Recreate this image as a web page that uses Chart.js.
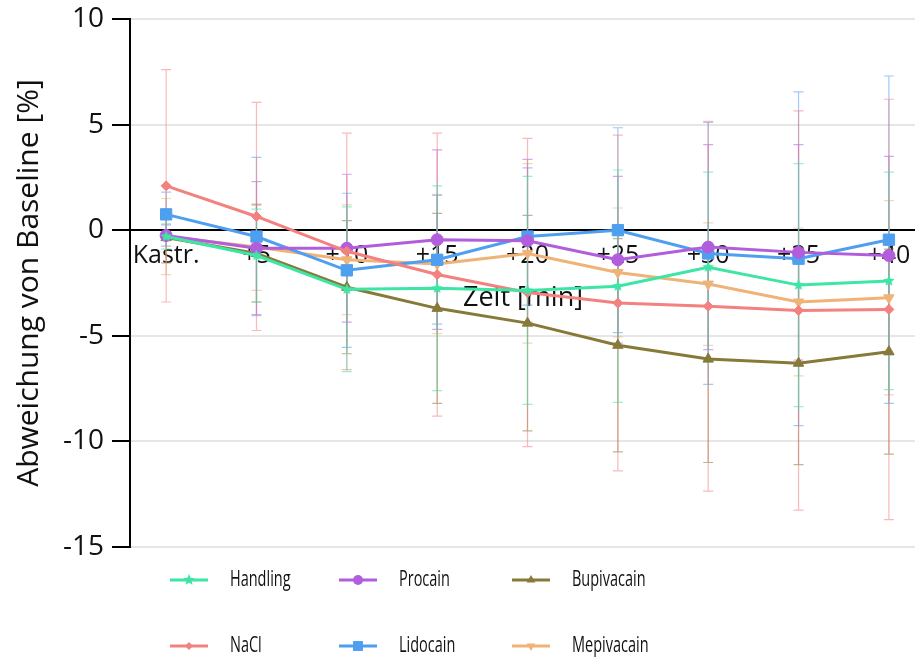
<!DOCTYPE html>
<html>
<head>
<meta charset="utf-8">
<title>Abweichung von Baseline</title>
<script src="https://cdn.jsdelivr.net/npm/chart.js@4.4.1/dist/chart.umd.min.js"></script>
<style>
  html, body { margin: 0; padding: 0; background: #fff; }
  #wrap { width: 915px; height: 660px; overflow: hidden; }
</style>
</head>
<body>
<div id="wrap"><canvas id="verlauf" width="925" height="660"></canvas></div>
<script>
// Messzeitpunkte (x-Achse)
const zeitpunkte = ['Kastr.', '+5', '+10', '+15', '+20', '+25', '+30', '+35', '+40'];

// Mittelwerte und Standardabweichungen je Gruppe (% Abweichung von Baseline)
const handlingMW   = [-0.3, -1.2, -2.8, -2.75, -2.85, -2.65, -1.75, -2.6, -2.4];
const handlingSD   = [0.6, 2.2, 3.9, 4.85, 5.4, 5.5, 4.5, 5.75, 5.15];
const naclMW       = [2.1, 0.65, -1.0, -2.1, -2.95, -3.45, -3.6, -3.8, -3.75];
const naclSD       = [5.5, 5.4, 5.6, 6.7, 7.3, 7.95, 8.75, 9.45, 9.95];
const procainMW    = [-0.25, -0.85, -0.85, -0.45, -0.5, -1.4, -0.8, -1.05, -1.2];
const procainSD    = [0.5, 3.15, 3.5, 4.25, 3.85, 3.95, 4.85, 5.1, 4.7];
const lidocainMW   = [0.75, -0.3, -1.9, -1.4, -0.3, 0, -1.1, -1.35, -0.45];
const lidocainSD   = [1.05, 3.75, 3.65, 3.05, 3.25, 4.85, 6.2, 7.9, 7.75];
const bupivacainMW = [-0.35, -1.1, -2.7, -3.7, -4.4, -5.45, -6.1, -6.3, -5.75];
const bupivacainSD = [1.2, 2.3, 3.15, 4.5, 5.1, 5.05, 4.9, 4.8, 4.85];
const mepivacainMW = [-0.3, -0.8, -1.4, -1.6, -1.1, -2.0, -2.55, -3.4, -3.2];
const mepivacainSD = [1.8, 2.05, 2.6, 3.3, 4.25, 3.05, 2.9, 3.5, 4.6];

// y-Achse
const yTicks = [-15, -10, -5, 0, 5, 10];

const farben = {
    handling: '#3ee6a6',
    nacl: '#f2817f',
    procain: '#b25ddc',
    lidocain: '#4f9ff0',
    bupivacain: '#877a38',
    mepivacain: '#f0b377'
};

const schrift = "'Open Sans', 'Noto Sans', sans-serif";

function hexToRgba(hex, alpha) {
    const r = parseInt(hex.slice(1, 3), 16);
    const g = parseInt(hex.slice(3, 5), 16);
    const b = parseInt(hex.slice(5, 7), 16);
    return `rgba(${r}, ${g}, ${b}, ${alpha})`;
}

// gefüllter Fünfzack als Punktsymbol (Chart.js 'star' ist nur ein Sternchen aus Strichen)
function stern(r, color) {
    const c = document.createElement('canvas');
    c.width = c.height = 2 * r + 2;
    const g = c.getContext('2d');
    g.fillStyle = color;
    g.beginPath();
    for (let k = 0; k < 10; k++) {
        const rad = k % 2 ? r * 0.45 : r;
        const a = -Math.PI / 2 + k * Math.PI / 5;
        g.lineTo(r + 1 + rad * Math.cos(a), r + 1 + rad * Math.sin(a));
    }
    g.closePath();
    g.fill();
    return c;
}

const punkte = (werte) => werte.map((v, i) => ({ x: i, y: v }));

function gruppe(label, mw, sd, farbe, symbol, radius, drehung) {
    return {
        label: label,
        data: punkte(mw),
        sd: sd,
        borderColor: farbe,
        backgroundColor: farbe,
        borderWidth: 3,
        pointStyle: symbol,
        pointRadius: radius,
        pointRotation: drehung || 0,
        pointBorderWidth: 1,
        fehlerFarbe: hexToRgba(farbe, 0.55),
        tension: 0
    };
}

const datasets = [
    gruppe('Handling', handlingMW, handlingSD, farben.handling, stern(6, farben.handling), 6),
    gruppe('NaCl', naclMW, naclSD, farben.nacl, 'rectRot', 5),
    gruppe('Procain', procainMW, procainSD, farben.procain, 'circle', 6),
    gruppe('Lidocain', lidocainMW, lidocainSD, farben.lidocain, 'rect', 8),
    gruppe('Bupivacain', bupivacainMW, bupivacainSD, farben.bupivacain, 'triangle', 6),
    gruppe('Mepivacain', mepivacainMW, mepivacainSD, farben.mepivacain, 'triangle', 6, 180)
];

// Fehlerbalken (± SD) unter den Linien
const fehlerbalken = {
    id: 'fehlerbalken',
    beforeDatasetsDraw(chart) {
        const { ctx, scales: { x, y } } = chart;
        ctx.save();
        ctx.lineWidth = 1.2;
        for (let i = chart.data.datasets.length - 1; i >= 0; i--) {
            const ds = chart.data.datasets[i];
            ctx.strokeStyle = ds.fehlerFarbe;
            ds.data.forEach((p, j) => {
                const px = x.getPixelForValue(p.x);
                const oben = y.getPixelForValue(p.y + ds.sd[j]);
                const unten = y.getPixelForValue(p.y - ds.sd[j]);
                ctx.beginPath();
                ctx.moveTo(px, oben); ctx.lineTo(px, unten);
                ctx.moveTo(px - 5, oben); ctx.lineTo(px + 5, oben);
                ctx.moveTo(px - 5, unten); ctx.lineTo(px + 5, unten);
                ctx.stroke();
            });
        }
        ctx.restore();
    }
};

// Legende in zwei Zeilen, spaltenweise gefüllt
const legende = {
    id: 'legende',
    afterDraw(chart) {
        const ctx = chart.ctx;
        const spalten = [170, 339, 512];
        const zeilen = [580, 646];
        ctx.save();
        chart.data.datasets.forEach((ds, i) => {
            const x0 = spalten[Math.floor(i / 2)];
            const yc = zeilen[i % 2];
            ctx.strokeStyle = ds.borderColor;
            ctx.fillStyle = ds.borderColor;
            ctx.lineWidth = 3;
            ctx.beginPath();
            ctx.moveTo(x0, yc);
            ctx.lineTo(x0 + 38, yc);
            ctx.stroke();
            Chart.helpers.drawPoint(ctx, {
                pointStyle: ds.pointStyle,
                radius: ds.pointRadius - 1,
                rotation: ds.pointRotation,
                borderWidth: 0
            }, x0 + 19, yc);
            // schmal laufende Schrift
            ctx.save();
            ctx.translate(x0 + 60, yc);
            ctx.scale(0.69, 1);
            ctx.fillStyle = '#111';
            ctx.font = `21px ${schrift}`;
            ctx.textBaseline = 'middle';
            ctx.fillText(ds.label, 0, 0);
            ctx.restore();
        });
        ctx.restore();
    }
};

new Chart(document.getElementById('verlauf'), {
    type: 'line',
    data: { datasets: datasets },
    plugins: [fehlerbalken, legende],
    options: {
        responsive: false,
        animation: false,
        layout: { padding: { top: 19, right: 0, bottom: 113, left: 0 } },
        plugins: {
            legend: { display: false },
            tooltip: { enabled: false }
        },
        scales: {
            x: {
                type: 'linear',
                min: -0.4,
                max: 8.3,
                position: { y: 0 },
                grid: { display: false, drawTicks: false },
                border: { color: '#000', width: 2 },
                ticks: {
                    stepSize: 1,
                    includeBounds: false,
                    autoSkip: false,
                    maxRotation: 0,
                    padding: 11,
                    color: '#111',
                    font: { family: schrift, size: 25 },
                    callback: (v) => Number.isInteger(v) ? zeitpunkte[v] : null
                },
                title: {
                    display: true,
                    text: 'Zeit [min]',
                    color: '#111',
                    font: { family: schrift, size: 27 },
                    padding: { top: 0, bottom: 0 }
                }
            },
            y: {
                min: yTicks[0],
                max: yTicks[yTicks.length - 1],
                afterBuildTicks: (scale) => { scale.ticks = yTicks.map(v => ({ value: v })); },
                afterFit: (scale) => {
                    scale.width = 130;
                    scale.paddingTop = 0;
                    scale.paddingBottom = 0;
                },
                grid: {
                    color: '#e6e6e6',
                    lineWidth: 2,
                    tickColor: '#000',
                    tickLength: 18,
                    tickWidth: 2
                },
                border: { color: '#000', width: 2 },
                ticks: {
                    padding: 8,
                    color: '#111',
                    font: { family: schrift, size: 28 }
                },
                title: {
                    display: true,
                    text: 'Abweichung von Baseline [%]',
                    color: '#111',
                    font: { family: schrift, size: 30 },
                    padding: { top: 11, bottom: 0 }
                }
            }
        }
    }
});
</script>
</body>
</html>
